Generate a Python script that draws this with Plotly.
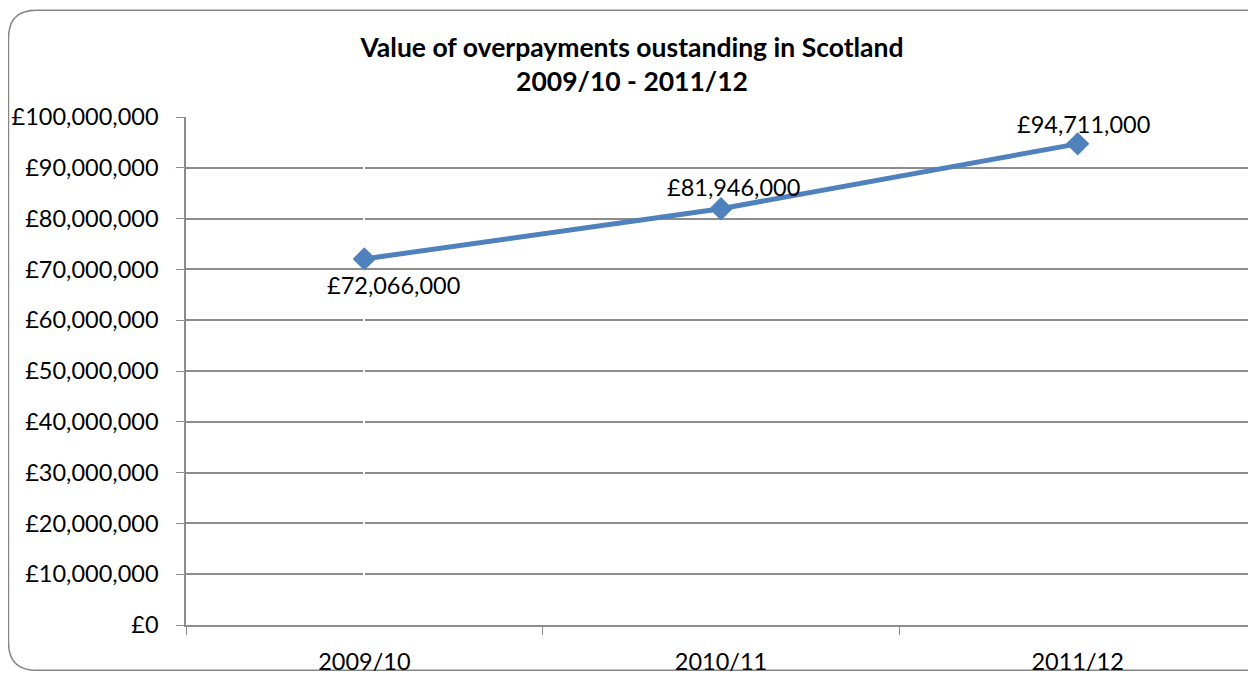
import plotly.graph_objects as go

categories = ["2009/10", "2010/11", "2011/12"]
values = [72066000, 81946000, 94711000]
labels = ["£72,066,000", "£81,946,000", "£94,711,000"]
y_tickvals = [0, 10000000, 20000000, 30000000, 40000000, 50000000,
              60000000, 70000000, 80000000, 90000000, 100000000]
y_ticktext = ["£0", "£10,000,000", "£20,000,000", "£30,000,000", "£40,000,000",
              "£50,000,000", "£60,000,000", "£70,000,000", "£80,000,000",
              "£90,000,000", "£100,000,000"]
title_text = "<b>Value of overpayments oustanding in Scotland<br>2009/10 - 2011/12</b>"

# page has an 8px body margin; figure pixel = page pixel - 8
OFF = 8
W, H = 1256 - OFF, 675 - OFF
ML, MR, MT, MB = 186 - OFF, 0, 117 - OFF, 47
FONT = "Lato"
FS = 23.5
GRID = "#8c8c8c"
BLUE = "#4F81BD"

fig = go.Figure()
fig.add_trace(go.Scatter(
    x=categories, y=values, mode="lines+markers",
    line=dict(color=BLUE, width=5),
    marker=dict(symbol="diamond", size=18, color=BLUE),
    hoverinfo="skip", showlegend=False,
))

offsets = [(29, -26), (12, 22), (6, 20)]
for c, v, t, (dx, dy) in zip(categories, values, labels, offsets):
    fig.add_annotation(x=c, y=v, text=t, showarrow=False, xshift=dx, yshift=dy,
                       font=dict(family=FONT, size=FS, color="#000000"))

# rounded chart border (page pixel -> paper coords)
pw = W - ML - MR
ph = H - MT - MB
def px(x):
    return (x - OFF - ML) / pw
def py(y):
    return (H - MB - (y - OFF)) / ph
L, T, B, R = 8.5, 9.5, 673.5, 1290
r = 28
path = (f"M {px(L+r)},{py(T)} L {px(R-r)},{py(T)} "
        f"Q {px(R)},{py(T)} {px(R)},{py(T+r)} L {px(R)},{py(B-r)} "
        f"Q {px(R)},{py(B)} {px(R-r)},{py(B)} L {px(L+r)},{py(B)} "
        f"Q {px(L)},{py(B)} {px(L)},{py(B-r)} L {px(L)},{py(T+r)} "
        f"Q {px(L)},{py(T)} {px(L+r)},{py(T)} Z")
fig.add_shape(type="path", path=path, xref="paper", yref="paper",
              line=dict(color="#868686", width=1.5), layer="below")

fig.update_layout(
    width=W, height=H,
    margin=dict(l=ML, r=MR, t=MT, b=MB),
    paper_bgcolor="white", plot_bgcolor="white",
    font=dict(family=FONT, color="#000000"),
    title=dict(text=title_text, x=px(632), xref="paper", xanchor="center",
               y=1 - (57 - OFF) / H, yref="container", yanchor="middle",
               font=dict(family=FONT, size=26.5, color="#000000")),
    xaxis=dict(range=[-0.5, 2.5], showgrid=False, showline=True, linecolor=GRID,
               linewidth=1.5, ticks="outside", ticklen=8, tickcolor=GRID,
               tickvals=[-0.5, 0.5, 1.5, 2.5], ticktext=["", "", "", ""],
               fixedrange=True),
    yaxis=dict(range=[0, 100000000], tickvals=y_tickvals, ticktext=y_ticktext,
               showgrid=True, gridcolor=GRID, gridwidth=1.5,
               showline=True, linecolor=GRID, linewidth=1.5,
               ticks="outside", ticklen=8, tickcolor=GRID,
               ticklabelstandoff=13,
               tickfont=dict(family=FONT, size=FS, color="#000000"),
               zeroline=False, fixedrange=True),
)

# category labels on an overlaid axis with ticks at category centers
fig.update_layout(xaxis2=dict(overlaying="x", side="bottom", range=[-0.5, 2.5],
                              tickvals=[0, 1, 2], ticktext=categories,
                              showgrid=False, showline=False, ticks="",
                              ticklabelstandoff=20,
                              tickfont=dict(family=FONT, size=FS, color="#000000"),
                              fixedrange=True))
fig.add_trace(go.Scatter(x=[0, 1, 2], y=[None, None, None], xaxis="x2",
                         showlegend=False, hoverinfo="skip"))

fig.write_html("out.html")
